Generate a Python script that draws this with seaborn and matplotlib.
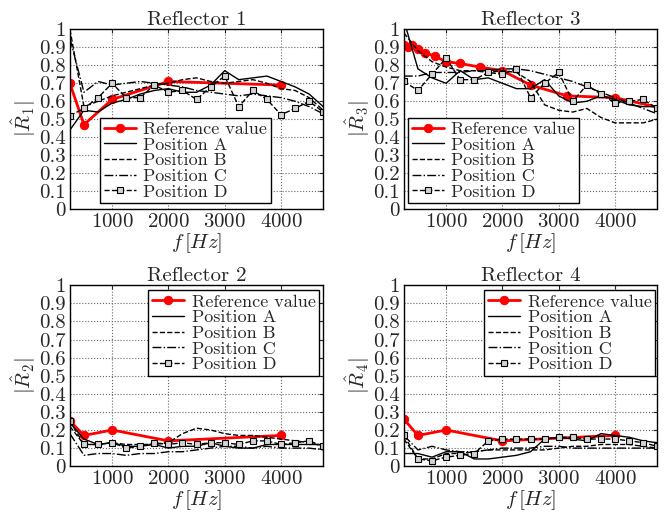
import matplotlib
matplotlib.use("Agg")
import matplotlib.pyplot as plt
import seaborn as sns
import numpy as np

# frequency grids
FREQ = [250, 500, 750, 1000, 1250, 1500, 1750, 2000, 2250, 2500, 2750,
        3000, 3250, 3500, 3750, 4000, 4250, 4500, 4750]
OCT_FREQ = [250, 500, 1000, 2000, 4000]
THIRD_OCT_FREQ = [250, 315, 400, 500, 630, 800, 1000, 1250, 1600, 2000,
                  2500, 3150, 4000, 5000]

# Reflector 1
r1_ref = [0.70, 0.47, 0.61, 0.71, 0.69]
r1_a = [0.44, 0.55, 0.54, 0.59, 0.61, 0.64, 0.66, 0.67, 0.65, 0.65, 0.69,
        0.77, 0.72, 0.73, 0.74, 0.71, 0.68, 0.64, 0.57]
r1_b = [1.00, 0.57, 0.60, 0.63, 0.65, 0.67, 0.69, 0.70, 0.72, 0.73, 0.71,
        0.70, 0.71, 0.72, 0.70, 0.67, 0.66, 0.62, 0.55]
r1_c = [0.95, 0.65, 0.71, 0.69, 0.70, 0.71, 0.70, 0.69, 0.68, 0.66, 0.65,
        0.64, 0.63, 0.64, 0.63, 0.62, 0.60, 0.57, 0.53]
r1_d = [0.52, 0.56, 0.62, 0.70, 0.62, 0.62, 0.69, 0.65, 0.66, 0.61, 0.68,
        0.74, 0.57, 0.66, 0.61, 0.525, 0.56, 0.60, 0.54]

# Reflector 3
r3_ref = [0.91, 0.90, 0.91, 0.89, 0.87, 0.85, 0.82, 0.81, 0.79, 0.77,
          0.69, 0.63, 0.62, 0.55]
r3_a = [1.05, 0.78, 0.73, 0.70, 0.77, 0.72, 0.73, 0.70, 0.67, 0.67, 0.72,
        0.63, 0.59, 0.60, 0.63, 0.61, 0.58, 0.57, 0.57]
r3_b = [0.98, 0.88, 0.82, 0.79, 0.77, 0.77, 0.76, 0.77, 0.76, 0.71, 0.58,
        0.55, 0.54, 0.56, 0.51, 0.48, 0.48, 0.48, 0.50]
r3_c = [0.74, 0.74, 0.76, 0.76, 0.76, 0.77, 0.77, 0.78, 0.78, 0.77, 0.75,
        0.73, 0.71, 0.68, 0.65, 0.62, 0.59, 0.56, 0.53]
r3_d = [0.71, 0.66, 0.75, 0.84, 0.72, 0.72, 0.76, 0.75, 0.78, 0.62, 0.70,
        0.76, 0.60, 0.69, 0.64, 0.59, 0.60, 0.61, 0.56]

# Reflector 2
r2_ref = [0.25, 0.17, 0.20, 0.14, 0.17]
r2_a = [0.24, 0.15, 0.12, 0.13, 0.11, 0.11, 0.12, 0.10, 0.11, 0.11, 0.13,
        0.11, 0.10, 0.10, 0.12, 0.12, 0.12, 0.12, 0.12]
r2_b = [0.22, 0.12, 0.12, 0.13, 0.12, 0.12, 0.12, 0.13, 0.18, 0.21, 0.20,
        0.18, 0.17, 0.17, 0.16, 0.15, 0.14, 0.13, 0.11]
r2_c = [0.18, 0.06, 0.07, 0.07, 0.06, 0.07, 0.07, 0.08, 0.08, 0.09, 0.10,
        0.11, 0.11, 0.10, 0.11, 0.10, 0.10, 0.10, 0.09]
r2_d = [0.25, 0.12, 0.12, 0.13, 0.10, 0.11, 0.13, 0.12, 0.13, 0.12, 0.13,
        0.13, 0.12, 0.14, 0.14, 0.12, 0.13, 0.14, 0.11]

# Reflector 4
r4_ref = [0.26, 0.17, 0.20, 0.14, 0.17]
r4_a = [0.07, 0.07, 0.05, 0.08, 0.08, 0.04, 0.04, 0.05, 0.06, 0.08, 0.15,
        0.16, 0.15, 0.14, 0.18, 0.17, 0.16, 0.14, 0.13]
r4_b = [0.15, 0.04, 0.04, 0.07, 0.07, 0.08, 0.09, 0.09, 0.09, 0.09, 0.09,
        0.10, 0.11, 0.11, 0.12, 0.12, 0.12, 0.11, 0.10]
r4_c = [0.17, 0.09, 0.11, 0.09, 0.08, 0.08, 0.09, 0.10, 0.10, 0.10, 0.11,
        0.11, 0.10, 0.10, 0.10, 0.10, 0.10, 0.10, 0.10]
r4_d = [0.17, 0.04, 0.03, 0.05, 0.06, 0.07, 0.14, 0.15, 0.15, 0.15, 0.15,
        0.16, 0.16, 0.15, 0.15, 0.15, 0.14, 0.13, 0.11]

sns.set_style("white")
plt.rcParams["font.family"] = ["cmr10"]
plt.rcParams["mathtext.fontset"] = "cm"
plt.rcParams["axes.formatter.use_mathtext"] = True
plt.rcParams["font.size"] = 13

fig = plt.figure(figsize=(6.72, 5.14), dpi=100)

panels = [
    # (title, index, ref_x, ref_y, a, b, c, d, axes rect, legend loc, anchor)
    ("Reflector 1", 1, OCT_FREQ, r1_ref, r1_a, r1_b, r1_c, r1_d,
     [0.104, 0.593, 0.377, 0.350], "lower left", (0.119, 0.033)),
    ("Reflector 3", 3, THIRD_OCT_FREQ, r3_ref, r3_a, r3_b, r3_c, r3_d,
     [0.601, 0.593, 0.377, 0.350], "lower left", (0.016, 0.033)),
    ("Reflector 2", 2, OCT_FREQ, r2_ref, r2_a, r2_b, r2_c, r2_d,
     [0.104, 0.093, 0.377, 0.352], "upper right", (0.984, 0.972)),
    ("Reflector 4", 4, OCT_FREQ, r4_ref, r4_a, r4_b, r4_c, r4_d,
     [0.601, 0.093, 0.377, 0.352], "upper right", (0.992, 0.972)),
]

for title, idx, rx, ry, a, b, c, d, rect, loc, anchor in panels:
    ax = fig.add_axes(rect)
    sns.lineplot(x=rx, y=ry, ax=ax, color="red", linewidth=2, marker="o",
                 markersize=6, markeredgecolor="red", label="Reference value")
    sns.lineplot(x=FREQ, y=a, ax=ax, color="black", linewidth=1,
                 linestyle="-", label="Position A")
    sns.lineplot(x=FREQ, y=b, ax=ax, color="black", linewidth=1,
                 linestyle="--", label="Position B")
    sns.lineplot(x=FREQ, y=c, ax=ax, color="black", linewidth=1,
                 linestyle="-.", label="Position C")
    sns.lineplot(x=FREQ, y=d, ax=ax, color="black", linewidth=1,
                 linestyle="--", marker="s", markersize=4,
                 markerfacecolor="#d4d4d4", markeredgecolor="black",
                 markeredgewidth=0.8, label="Position D")

    ax.set_xlim(250, 4750)
    ax.set_ylim(0, 1)
    ax.set_xticks([1000, 2000, 3000, 4000])
    ax.set_yticks(np.round(np.arange(0, 1.01, 0.1), 1))
    ax.set_yticklabels(["0", "0.1", "0.2", "0.3", "0.4", "0.5", "0.6",
                        "0.7", "0.8", "0.9", "1"])
    ax.grid(True, linestyle=":", color="#666666", linewidth=0.8)
    ax.tick_params(direction="in", top=True, right=True, length=3, pad=3,
                   labelsize=15)
    for s in ax.spines.values():
        s.set_color("black")
        s.set_linewidth(1)

    ax.set_title(title, fontsize=15, pad=3)
    ax.set_xlabel(r"$f\,[Hz]$", fontsize=15, labelpad=0)
    ax.set_ylabel(r"$|\hat{R}_{%d}|$" % idx, fontsize=15, labelpad=1)

    leg = ax.legend(loc=loc, bbox_to_anchor=anchor, borderaxespad=0,
                    fancybox=False, edgecolor="black", framealpha=1,
                    handlelength=1.8, handletextpad=0.4, labelspacing=0.0,
                    borderpad=0.2, fontsize=13)
    leg.get_frame().set_linewidth(1)

fig.savefig("out.png", dpi=100)
